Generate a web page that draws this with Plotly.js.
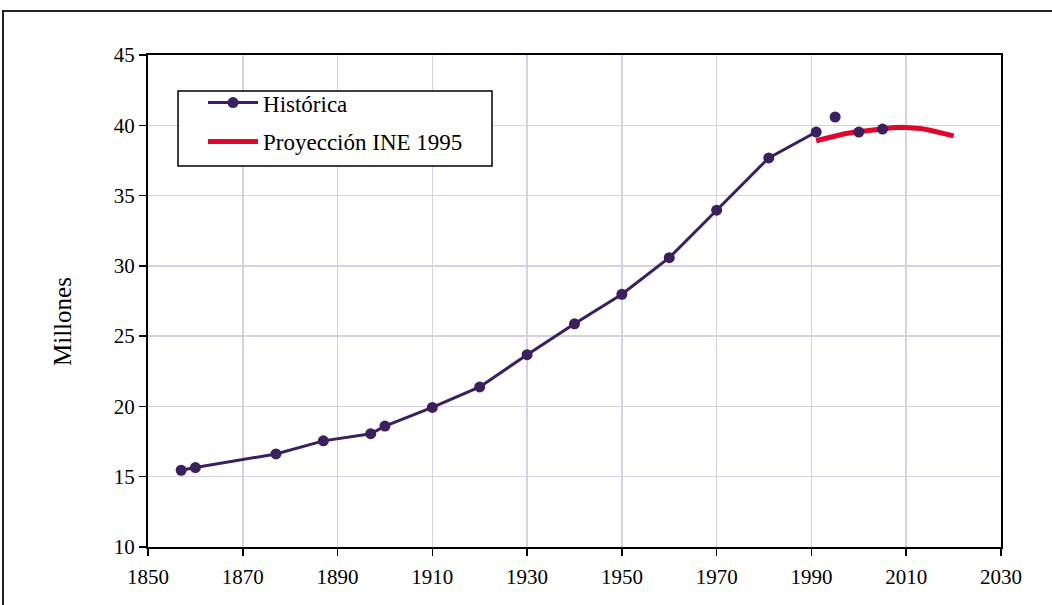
<!DOCTYPE html>
<html>
<head>
<meta charset="utf-8">
<script src="https://cdn.plot.ly/plotly-3.0.1.min.js"></script>
<style>html,body{margin:0;padding:0;background:#fff;}#chart{width:1052px;height:605px;}</style>
</head>
<body>
<div id="chart"></div>
<script>
// Historic census population (millions)
const histYears = [1857, 1860, 1877, 1887, 1897, 1900, 1910, 1920, 1930, 1940, 1950, 1960, 1970, 1981, 1991];
const histValues = [15.46, 15.65, 16.62, 17.55, 18.06, 18.6, 19.93, 21.39, 23.68, 25.88, 27.98, 30.58, 33.96, 37.68, 39.52];
// Later estimates (markers only)
const lateYears = [1995, 2000, 2005];
const lateValues = [40.59, 39.52, 39.73];
// INE 1995 projection
const projYears = [1991, 1993, 1995, 1997, 1999, 2001, 2003, 2005, 2007, 2009, 2011, 2013, 2015, 2017, 2019, 2020];
const projValues = [38.9, 39.08, 39.25, 39.4, 39.5, 39.6, 39.68, 39.75, 39.83, 39.86, 39.86, 39.78, 39.65, 39.5, 39.33, 39.25];

const xTicks = [1850, 1870, 1890, 1910, 1930, 1950, 1970, 1990, 2010, 2030];
const yTicks = [10, 15, 20, 25, 30, 35, 40, 45];
const yTitle = 'Millones';

const purple = '#3b1f5e';
const red = '#e0062b';
const serif = '"Liberation Serif", "DejaVu Serif", serif';

const traces = [
  {
    x: histYears, y: histValues, legendgroup: 'a',
    type: 'scatter', mode: 'lines+markers', name: 'Histórica',
    line: {color: purple, width: 3},
    marker: {color: purple, size: 11}
  },
  {
    x: projYears, y: projValues, legendgroup: 'b',
    type: 'scatter', mode: 'lines', name: 'Proyección INE 1995',
    line: {color: red, width: 5}
  },
  {
    x: lateYears, y: lateValues, legendgroup: 'a',
    type: 'scatter', mode: 'markers', name: 'Histórica', showlegend: false,
    marker: {color: purple, size: 11}
  }
];

const layout = {
  width: 1052, height: 605,
  margin: {l: 148, r: 51, t: 55, b: 58},
  paper_bgcolor: '#fff', plot_bgcolor: '#fff',
  font: {family: serif, color: '#000', size: 21},
  showlegend: true,
  legend: {
    x: 0.0645, y: 0.947, xanchor: 'left', yanchor: 'top',
    bgcolor: 'rgba(0,0,0,0)', borderwidth: 0,
    font: {family: serif, size: 23, color: '#000'},
    itemwidth: 50, traceorder: 'grouped', tracegroupgap: 6
  },
  xaxis: {
    range: [1850, 2030], tickmode: 'array', tickvals: xTicks, ticktext: xTicks.map(String),
    showgrid: true, gridcolor: '#d8d0e8', gridwidth: 1.5,
    showline: true, linecolor: '#000', linewidth: 2, mirror: true,
    ticks: 'outside', ticklen: 7, tickwidth: 1.5, tickcolor: '#000',
    ticklabelstandoff: 3,
    zeroline: false, tickfont: {family: serif, size: 21}
  },
  yaxis: {
    range: [10, 45], tickmode: 'array', tickvals: yTicks, ticktext: yTicks.map(String),
    showgrid: true, gridcolor: '#d8d0e8', gridwidth: 1.5,
    showline: true, linecolor: '#000', linewidth: 2, mirror: true,
    ticks: 'outside', ticklen: 7, tickwidth: 1.5, tickcolor: '#000',
    zeroline: false, tickfont: {family: serif, size: 21}
  },
  annotations: [{
    text: yTitle, xref: 'paper', yref: 'paper', x: -0.1008, y: 0.4573,
    xanchor: 'center', yanchor: 'middle', textangle: -90, showarrow: false,
    font: {family: serif, size: 25, color: '#000'}
  }],
  shapes: [
    {
      type: 'rect', xref: 'paper', yref: 'paper',
      x0: -0.170, x1: 1.2, y0: -0.3, y1: 1.0894,
      line: {color: '#222', width: 2}, fillcolor: 'rgba(0,0,0,0)', layer: 'below'
    },
    {
      type: 'rect', xref: 'paper', yref: 'paper',
      x0: 0.0352, x1: 0.4033, y0: 0.7744, y1: 0.9268,
      line: {color: '#000', width: 1.5}, fillcolor: '#fff', layer: 'above'
    }
  ]
};

Plotly.newPlot('chart', traces, layout, {displayModeBar: false, staticPlot: true});
</script>
</body>
</html>
